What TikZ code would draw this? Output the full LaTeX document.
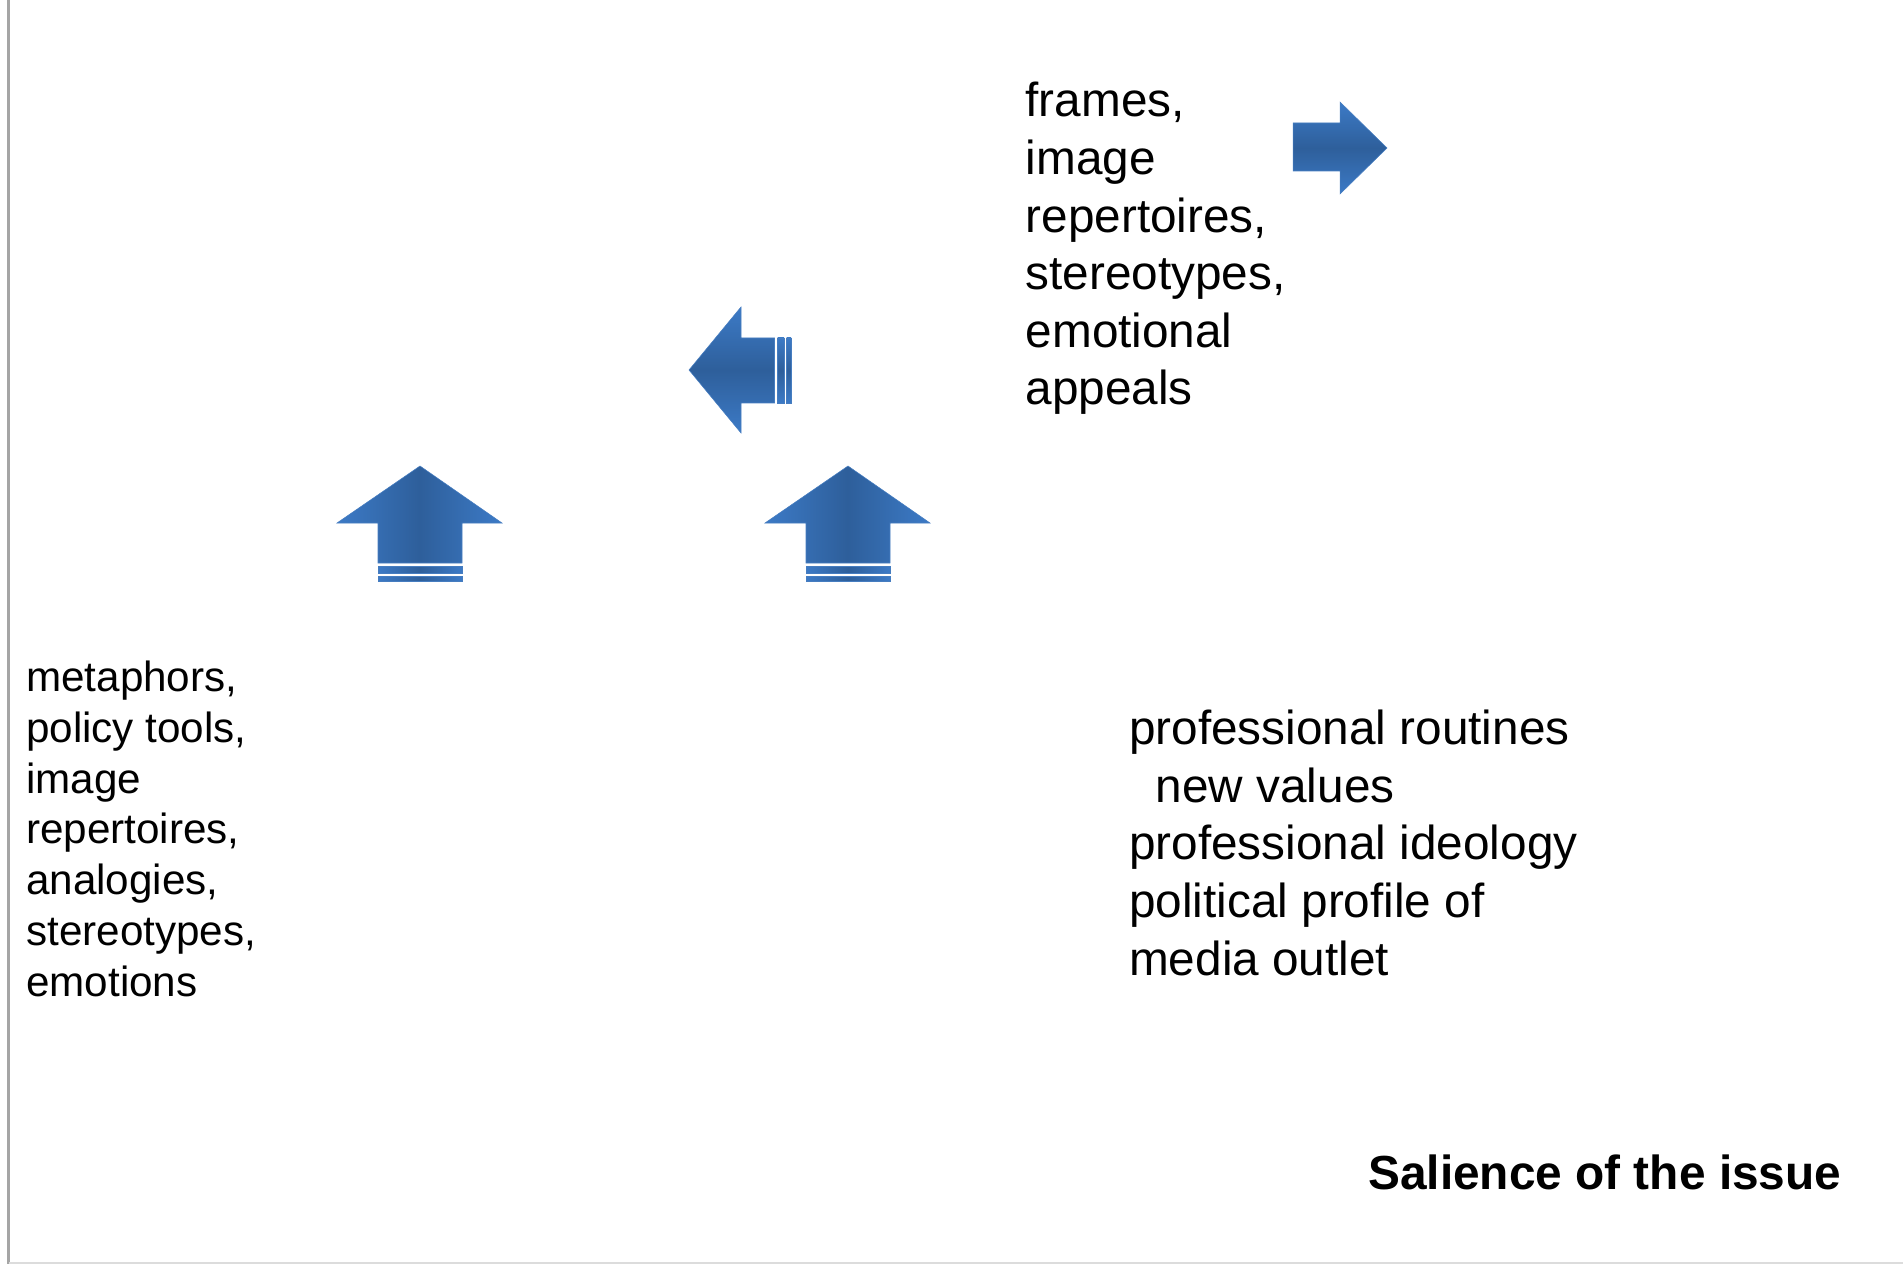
\documentclass[tikz,border=0pt]{standalone}
\usepackage{fontspec}
\setmainfont{Liberation Sans}
\definecolor{arrowlight}{RGB}{60,122,198}
\definecolor{arrowdark}{RGB}{46,95,155}
\definecolor{arrowrim}{RGB}{70,125,192}
\definecolor{framegray}{RGB}{165,165,165}
\definecolor{framelight}{RGB}{220,220,220}
\begin{document}
\begin{tikzpicture}[x=0.01cm, y=-0.01cm,
    cue/.style={anchor=base west, inner sep=0pt, align=left,
      font=\fontsize{13.57}{16.39}\selectfont},
    cuesmall/.style={cue, font=\fontsize{12}{14.42}\selectfont},
    blockarrow/.style={draw=arrowrim, line width=0.15pt},
    upshade/.style={left color=arrowlight, right color=arrowlight, middle color=arrowdark},
    sideshade/.style={top color=arrowlight, bottom color=arrowlight, middle color=arrowdark}]
  \useasboundingbox (0,0) rectangle (1903,1264);
  % frame edges
  \draw[framegray, line width=0.7pt] (8.7,0) -- (8.7,1264);
  \draw[framelight, line width=0.6pt] (8.7,1263) -- (1903,1263);

  % texts (placed at the baseline of their last line)
  \node[cue] (frames) at (1025,405)
    {frames,\\image\\repertoires,\\stereotypes,\\emotional\\appeals};
  \node[cuesmall] (devices) at (25.5,996)
    {metaphors,\\policy tools,\\image\\repertoires,\\analogies,\\stereotypes,\\emotions};
  \node[cue] (routines) at (1128.5,975)
    {professional routines\\\hspace*{0.556em}new values\\professional ideology\\political profile of\\media outlet};
  \node[anchor=base west, inner sep=0pt, font=\bfseries\fontsize{13.6}{16}\selectfont]
    (salience) at (1367.5,1189) {Salience of the issue};

  % up arrows
  \foreach \dx in {0,428}{
    \begin{scope}[shift={(\dx,0)}]
      \path[blockarrow, upshade] (378,563) -- (378,523) -- (337,523) -- (420,466)
        -- (502,523) -- (462,523) -- (462,563) -- cycle;
      \path[blockarrow, upshade] (378,566.5) rectangle (462,573);
      \path[blockarrow, upshade] (378,576) rectangle (462,581);
    \end{scope}
  }

  % left arrow
  \path[blockarrow, sideshade] (774.5,338) -- (741,338) -- (741,307) -- (689,370)
    -- (741,433) -- (741,403) -- (774.5,403) -- cycle;
  \path[blockarrow, sideshade] (777.5,338) rectangle (784,403);
  \path[blockarrow, sideshade] (786.5,338) rectangle (791,403);

  % right arrow
  \path[blockarrow, sideshade] (1293,123) -- (1340,123) -- (1340,102) -- (1387,148)
    -- (1340,194) -- (1340,171) -- (1293,171) -- cycle;
\end{tikzpicture}
\end{document}
